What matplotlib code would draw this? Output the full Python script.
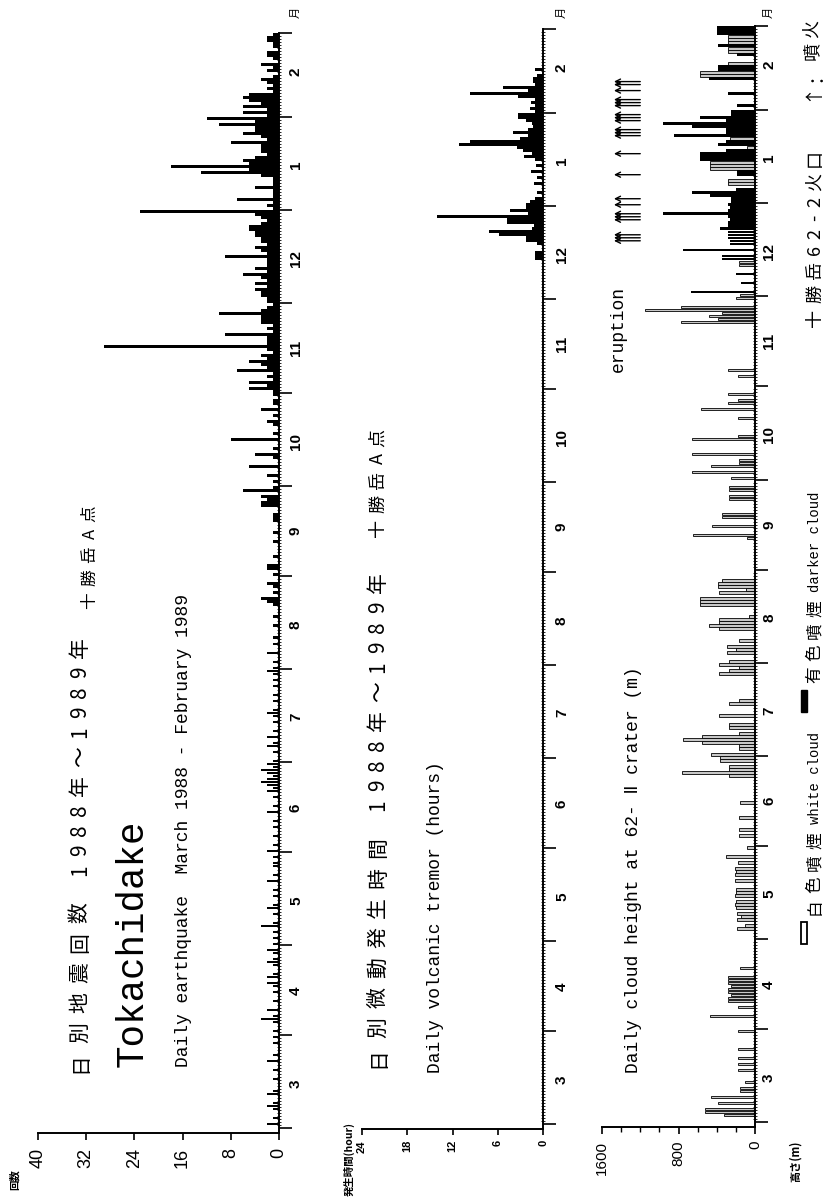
import numpy as np
import pandas as pd
import matplotlib
matplotlib.use('Agg')
import matplotlib.pyplot as plt
from matplotlib.transforms import Affine2D, blended_transform_factory
from matplotlib.patches import Rectangle

plt.rcParams['font.family'] = ['Noto Sans CJK JP', 'DejaVu Sans']

# ---------------- data ----------------
month_labels = ['3', '4', '5', '6', '7', '8', '9', '10', '11', '12', '1', '2']

# daily earthquake counts (Mar 1988 - Feb 1989)
quake_mar = [0,2,0,1,0,0,1,2,1,0, 0,2,1,0,0,0,1,0,0,1, 0,0,2,0,1,0,0,0,1,0, 1]
quake_apr = [0,1,0,0,1,3,1,0,2,0, 0,1,0,0,1,0,1,2,0,2, 1,0,0,1,2,1,0,1,2,0]
quake_may = [1,0,1,0,1,0,3,1,0,0, 1,0,2,1,0,0,1,0,1,0, 0,2,0,1,0,0,1,1,0,1, 0]
quake_jun = [2,0,1,0,0,1,0,0,1,0, 1,0,0,2,0,1,0,0,1,0, 2,1,2,3,2,1,2,3,1,2]
quake_jul = [1,0,0,1,0,2,1,0,2,0, 1,0,0,1,0,1,2,1,0,0, 1,0,1,0,0,1,0,1,0,1, 2]
quake_aug = [1,0,1,0,0,2,0,0,1,0, 1,0,0,0,1,0,0,1,0,0, 0,1,2,3,0,1,0,1,2,0, 0]
quake_sep = [1,0,2,2,0,0,1,0,0,0, 0,1,0,0,1,0,0,0,1,1, 1,0,0,3,3,2,3,0,6,1]
quake_oct = [0,1,0,2,0,0,5,0,0,1, 4,0,1,0,0,8,0,1,0,0, 1,2,0,1,0,3,0,1,1,0, 1]
quake_nov = [1,5,2,5,1,2,1,7,2,3, 5,2,3,1,2,29,2,2,2,9, 1,2,1,3,3,3,10,3,2,1]
quake_dec = [2,2,3,3,4,2,4,2,3,6, 2,4,2,2,2,9,2,3,4,2, 3,3,4,4,5,5,3,2,3,4, 23]
quake_jan = [1,2,1,7,1,1,1,4,1,1, 1,3,13,5,18,5,6,4,2,3, 3,3,8,2,3,6,4,4,10,4, 12]
quake_feb = [2,6,2,6,3,5,6,5,1,2, 1,2,3,1,0,2,1,3,0,1, 2,2,0,1,1,2,2,1]

# daily volcanic tremor duration (hours)
tremor_dates = ['12-14','12-15','12-16','12-19','12-20','12-21','12-22','12-23','12-24',
                '12-25','12-26','12-27','12-28','12-29','12-30','12-31','01-01','01-02',
                '01-03','01-05','01-08','01-10','01-12','01-14','01-16','01-17','01-18',
                '01-19','01-20','01-21','01-22','01-23','01-24','01-25','01-26','01-27',
                '01-28','01-29','01-30','01-31','02-01','02-02','02-03','02-04','02-05',
                '02-06','02-07','02-08','02-09','02-10','02-11','02-12','02-13','02-15']
tremor_hours = [1.0, 1.0, 1.0, 0.8, 2.3, 2.3, 5.8, 7.1, 1.5,
                1.2, 4.8, 4.8, 14.0, 2.0, 4.4, 2.2, 2.2, 1.7,
                1.0, 0.8, 1.2, 0.8, 1.6, 0.9, 1.0, 2.5, 1.5,
                2.6, 3.5, 11.2, 9.7, 3.0, 2.0, 4.0, 2.0, 1.3,
                1.5, 2.3, 3.3, 3.3, 1.0, 1.7, 1.0, 1.6, 1.0,
                3.3, 9.7, 2.0, 5.3, 1.0, 1.3, 1.3, 0.8, 1.1]

# daily cloud height (m) - white cloud
white_dates = ['03-03','03-04','03-05','03-07','03-09','03-11','03-12','03-14','03-18','03-20',
               '03-22','03-25','03-31','04-05','04-08','04-10','04-11','04-12','04-13','04-14',
               '04-15','04-16','04-17','04-18','04-21','05-04','05-05','05-07','05-08','05-09',
               '05-11','05-12','05-13','05-15','05-16','05-17','05-20','05-22','05-23','05-24',
               '05-26','05-28','05-31','06-04','06-06','06-10','06-15','06-24','06-25','06-26',
               '06-27','06-29','06-30','07-01','07-03','07-04','07-05','07-06','07-07','07-08',
               '07-10','07-11','07-14','07-18','07-19','07-28','07-29','07-30','07-31','08-01',
               '08-04','08-05','08-06','08-08','08-12','08-13','08-14','08-15','08-16','08-20',
               '08-21','08-22','08-24','08-25','08-26','08-27','08-28','09-11','09-12','09-15',
               '09-18','09-19','09-24','09-25','09-27','09-28','10-01','10-03','10-05','10-06',
               '10-07','10-09','10-14','10-15','10-21','10-24','10-26','10-27','10-29','11-04',
               '11-06','11-22','11-23','11-24','11-25','11-26','11-27','11-30','12-01','12-11',
               '12-12','01-07','01-08','01-12','01-13','01-14','01-19','01-22','02-12','02-13',
               '02-16','02-20','02-21','02-23','02-24','02-25']
white_heights = [320, 520, 520, 385, 460, 160, 160, 100, 180, 180,
                 180, 180, 180, 470, 180, 280, 280, 250, 280, 280,
                 250, 280, 280, 280, 160, 190, 100, 190, 150, 190,
                 200, 210, 200, 210, 200, 200, 210, 210, 200, 210,
                 180, 300, 80, 170, 170, 170, 155, 270, 760, 270,
                 270, 365, 365, 460, 170, 170, 550, 750, 550, 170,
                 270, 270, 375, 270, 170, 375, 270, 170, 375, 270,
                 290, 200, 290, 170, 375, 480, 375, 375, 60, 570,
                 570, 570, 375, 95, 385, 385, 350, 80, 650, 450,
                 350, 350, 270, 270, 270, 270, 250, 660, 460, 170,
                 170, 660, 660, 180, 180, 560, 280, 180, 280, 180,
                 280, 770, 390, 480, 350, 1150, 770, 200, 160, 170,
                 170, 280, 280, 470, 470, 470, 80, 260, 570, 570,
                 280, 280, 280, 280, 280, 280]

# daily cloud height (m) - darker cloud
dark_dates = ['12-02','12-05','12-08','12-13','12-14','12-16','12-18','12-19','12-20','12-21',
              '12-22','12-23','12-24','12-25','12-26','12-27','12-28','12-29','12-30','12-31',
              '01-01','01-02','01-03','01-04','01-05','01-10','01-11','01-15','01-16','01-17',
              '01-18','01-20','01-21','01-23','01-24','01-25','01-26','01-27','01-28','01-29',
              '01-30','01-31','02-02','02-06','02-11','02-14','02-15','02-19','02-22','02-26',
              '02-27','02-28']
dark_heights = [670, 150, 200, 340, 340, 750, 260, 260, 280, 280,
                280, 365, 280, 280, 260, 280, 960, 280, 260, 280,
                250, 250, 470, 660, 200, 190, 190, 570, 570, 570,
                300, 390, 300, 850, 300, 300, 660, 960, 300, 570,
                250, 250, 190, 280, 480, 390, 390, 190, 390, 400,
                400, 400]

eruption_dates = ['12-19','12-20','12-21','12-26','12-27','12-28','12-31','01-02','01-10',
                  '01-17','01-23','01-24','01-25','01-28','01-29','01-30','02-02','02-03',
                  '02-04','02-07','02-09','02-10']

# ---------------- helpers ----------------
W, H = 835, 1200
fig = plt.figure(figsize=(W / 100, H / 100), dpi=100)
fig.patch.set_facecolor('white')
PX = Affine2D().scale(1 / W, -1 / H).translate(0, 1) + fig.transFigure

START = pd.Timestamp('1988-03-01')


def to_day(md):
    m, d = map(int, md.split('-'))
    y = 1988 if m >= 3 else 1989
    return (pd.Timestamp(year=y, month=m, day=d) - START).days


month_starts = [(t - START).days for t in pd.date_range('1988-03-01', '1989-03-01', freq='MS')]
MONO = ['Liberation Mono', 'DejaVu Sans Mono', 'DejaVu Sans']
SANS = ['Liberation Sans', 'DejaVu Sans']


def make_axes(left, top, right, bottom, vmax, label_x):
    ax = fig.add_axes([left / W, 1 - bottom / H, (right - left) / W, (bottom - top) / H])
    ax.set_xlim(vmax, 0)
    ax.set_ylim(-1.5, 365)
    ax.patch.set_alpha(0)
    for s in ('top', 'left'):
        ax.spines[s].set_visible(False)
    ax.spines['right'].set_linewidth(1.4)
    ax.spines['bottom'].set_linewidth(1.4)
    ax.yaxis.tick_right()
    ax.set_yticks(month_starts)
    ax.set_yticklabels([])
    ax.set_yticks(np.arange(0, 366), minor=True)
    ax.tick_params(axis='y', which='major', direction='out', length=9, width=1.2)
    ax.tick_params(axis='y', which='minor', direction='inout', length=3.5, width=0.6)
    bt = blended_transform_factory(PX, ax.transData)
    for i, lab in enumerate(month_labels):
        ax.text(label_x, month_starts[i] + 15, lab, transform=bt, rotation=90,
                ha='center', va='center', fontsize=11, fontweight='bold', family=SANS)
    fig.text(label_x, 12, '月', transform=PX, rotation=90, ha='center', va='center', fontsize=8)
    return ax


def vtext(x, y, s, **kw):
    fig.text(x, y, s, transform=PX, rotation=90, ha='center', va='bottom', **kw)


def spaced(x, y, s, size, wide, narrow, **kw):
    for ch in s:
        step = narrow if (ord(ch) < 0x2E80) else wide
        fig.text(x, y - step / 2, ch, transform=PX, rotation=90, ha='center', va='center',
                 fontsize=size, **kw)
        y -= step


# ---------------- panel 1: earthquakes ----------------
quake = np.array(quake_mar + quake_apr + quake_may + quake_jun + quake_jul + quake_aug +
                 quake_sep + quake_oct + quake_nov + quake_dec + quake_jan + quake_feb)
ax1 = make_axes(38, 33, 279, 1133, 40, 296)
ax1.barh(np.arange(len(quake)) + 0.5, quake, height=0.85, color='black', linewidth=0)
ax1.set_xticks([0, 8, 16, 24, 32, 40])
ax1.set_xticklabels(['0', '8', '16', '24', '32', '40'], rotation=90, fontsize=13, family=SANS)
ax1.tick_params(axis='x', direction='out', length=5, width=1.2, pad=6)

vtext(15, 1190, '回数', fontsize=7.5, fontweight='bold')
spaced(80, 1078, '日別地震回数', 15, 30, 20)
spaced(80, 880, '1988年～1989年', 15, 29, 20)
spaced(90, 612, '十勝岳A点', 12, 23, 18)
vtext(133, 1067, 'Tokachidake', fontsize=27, family=MONO)
vtext(183, 1067, 'Daily earthquake  March 1988 - February 1989', fontsize=13, family=MONO)

# ---------------- panel 2: tremor ----------------
ax2 = make_axes(362, 29, 543, 1129, 24, 562)
ax2.barh([to_day(d) + 0.5 for d in tremor_dates], tremor_hours, height=0.85,
         color='black', linewidth=0)
ax2.set_xticks([0, 6, 12, 18, 24])
ax2.set_xticklabels(['0', '6', '12', '18', '24'], rotation=90, fontsize=8,
                    fontweight='bold', family=SANS)
ax2.tick_params(axis='x', direction='out', length=4, width=1.2, pad=4)

vtext(349, 1196, '発生時間(hour)', fontsize=7.5, fontweight='bold')
spaced(378, 1073, '日別微動発生時間', 15, 30, 20)
spaced(378, 815, '1988年～1989年', 15, 29, 20)
spaced(378, 540, '十勝岳A点', 13, 24, 18)
vtext(435, 1073, 'Daily volcanic tremor (hours)', fontsize=13, family=MONO)

# ---------------- panel 3: cloud height ----------------
ax3 = make_axes(602, 26, 755, 1127, 1600, 769)
ax3.barh([to_day(d) + 0.5 for d in white_dates], white_heights, height=0.85,
         facecolor='#c8c8c8', edgecolor='black', linewidth=0.6)
ax3.barh([to_day(d) + 0.5 for d in dark_dates], dark_heights, height=0.85,
         color='black', linewidth=0)
ax3.set_xticks([0, 800, 1600])
ax3.set_xticklabels(['0', '800', '1600'], rotation=90, fontsize=11, family=SANS)
ax3.set_xticks(np.arange(0, 1601, 200), minor=True)
ax3.tick_params(axis='x', which='major', direction='out', length=5, width=1.2, pad=5)
ax3.tick_params(axis='x', which='minor', direction='out', length=3.5, width=1.0)

for d in eruption_dates:
    ax3.annotate('', xy=(1475, to_day(d) + 0.5), xytext=(1200, to_day(d) + 0.5),
                 arrowprops=dict(arrowstyle='->', lw=1.0, color='black',
                                 shrinkA=0, shrinkB=0, mutation_scale=9),
                 annotation_clip=False)

vtext(633, 1073, 'Daily cloud height at 62- Ⅱ crater (m)', fontsize=13, family=MONO)
vtext(618, 372, 'eruption', fontsize=13, family=MONO)

# ---------------- bottom captions / legend ----------------
vtext(795, 1182, '高さ(m)', fontsize=8, fontweight='bold')
fig.add_artist(Rectangle((801, 922), 6, 22, transform=PX, facecolor='white',
                         edgecolor='black', linewidth=1.3))
spaced(815, 918, '白色噴煙', 12, 22, 16)
vtext(815, 824, 'white cloud', fontsize=10, family=MONO)
fig.add_artist(Rectangle((801, 690), 6, 22, transform=PX, facecolor='black',
                         edgecolor='black', linewidth=1.0))
spaced(815, 686, '有色噴煙', 12, 22, 16)
vtext(815, 592, 'darker cloud', fontsize=10, family=MONO)
spaced(815, 330, '十勝岳62-2火口', 13, 24, 16)
spaced(812, 100, '↑：噴火', 13, 22, 16)

fig.savefig('out.png', dpi=100, facecolor='white')
